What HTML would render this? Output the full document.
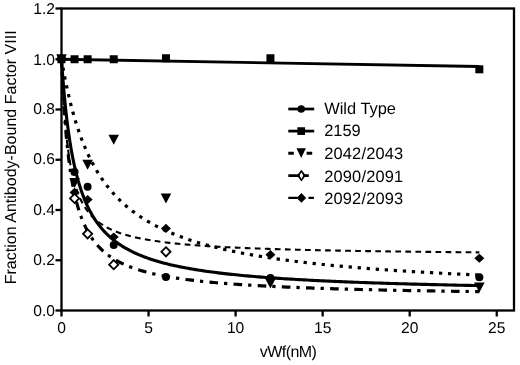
<!DOCTYPE html>
<html><head><meta charset="utf-8"><title>chart</title><style>html,body{margin:0;padding:0;background:#fff}body{width:520px;height:365px;overflow:hidden}</style></head><body>
<svg width="520" height="365" viewBox="0 0 520 365" style="display:block;will-change:transform;text-rendering:geometricPrecision;font-family:'Liberation Sans',sans-serif" fill="#000">
<rect width="520" height="365" fill="#fff"/>
<g stroke="#000" stroke-width="2.3" fill="none">
<rect x="61.5" y="8.50" width="452.5" height="302.00"/>
<path d="M55.5 310.50 H61.5"/>
<path d="M55.5 260.25 H61.5"/>
<path d="M55.5 210.00 H61.5"/>
<path d="M55.5 159.75 H61.5"/>
<path d="M55.5 109.50 H61.5"/>
<path d="M55.5 59.25 H61.5"/>
<path d="M55.5 8.50 H61.5"/>
<path d="M61.50 310.5 V316.5"/>
<path d="M148.55 310.5 V316.5"/>
<path d="M235.60 310.5 V316.5"/>
<path d="M322.65 310.5 V316.5"/>
<path d="M409.70 310.5 V316.5"/>
<path d="M496.75 310.5 V316.5"/>
</g>
<text transform="translate(55.00 315.60) scale(1.000 1)" font-size="15.60px" text-anchor="end" >0.0</text>
<text transform="translate(55.00 265.05) scale(1.000 1)" font-size="15.60px" text-anchor="end" >0.2</text>
<text transform="translate(55.00 214.70) scale(1.000 1)" font-size="15.60px" text-anchor="end" >0.4</text>
<text transform="translate(55.00 163.85) scale(1.000 1)" font-size="15.60px" text-anchor="end" >0.6</text>
<text transform="translate(55.00 113.60) scale(1.000 1)" font-size="15.60px" text-anchor="end" >0.8</text>
<text transform="translate(55.00 64.65) scale(1.000 1)" font-size="15.60px" text-anchor="end" >1.0</text>
<text transform="translate(55.00 14.20) scale(1.000 1)" font-size="15.60px" text-anchor="end" >1.2</text>
<text transform="translate(61.50 332.80) scale(1.000 1)" font-size="15.60px" text-anchor="middle" >0</text>
<text transform="translate(148.55 332.80) scale(1.000 1)" font-size="15.60px" text-anchor="middle" >5</text>
<text transform="translate(235.60 332.80) scale(1.000 1)" font-size="15.60px" text-anchor="middle" >10</text>
<text transform="translate(322.65 332.80) scale(1.000 1)" font-size="15.60px" text-anchor="middle" >15</text>
<text transform="translate(409.70 332.80) scale(1.000 1)" font-size="15.60px" text-anchor="middle" >20</text>
<text transform="translate(496.75 332.80) scale(1.000 1)" font-size="15.60px" text-anchor="middle" >25</text>
<text transform="translate(288.30 357.10) scale(1.000 1)" font-size="16.00px" text-anchor="middle" textLength="57.2" lengthAdjust="spacing">vWf(nM)</text>
<text transform="translate(15.9 157.3) rotate(-90)" font-size="16.05px" text-anchor="middle">Fraction Antibody-Bound Factor VIII</text>
<g fill="none" stroke="#000">
<path d="M61.50 59.25 L479.34 66.50" stroke-width="2.8"/>
<path d="M61.50 59.25 L61.51 59.44 L61.53 59.99 L61.57 60.90 L61.62 62.17 L61.68 63.78 L61.76 65.70 L61.86 67.93 L61.96 70.43 L62.09 73.19 L62.23 76.18 L62.38 79.37 L62.54 82.74 L62.73 86.26 L62.92 89.90 L63.13 93.65 L63.36 97.47 L63.60 101.34 L63.85 105.24 L64.12 109.16 L64.40 113.08 L64.70 116.98 L65.01 120.84 L65.34 124.66 L65.68 128.43 L66.03 132.14 L66.40 135.77 L66.79 139.33 L67.19 142.80 L67.60 146.19 L68.03 149.49 L68.47 152.70 L68.93 155.82 L69.40 158.85 L69.89 161.78 L70.39 164.62 L70.90 167.37 L71.43 170.03 L71.98 172.60 L72.53 175.09 L73.11 177.49 L73.69 179.80 L74.30 182.04 L74.91 184.20 L75.54 186.28 L76.19 188.29 L76.85 190.22 L77.52 192.09 L78.21 193.89 L78.92 195.63 L79.64 197.31 L80.37 198.92 L81.12 200.48 L81.88 201.99 L82.65 203.44 L83.44 204.84 L84.25 206.19 L85.07 207.49 L85.90 208.75 L86.75 209.97 L87.62 211.14 L88.49 212.27 L89.39 213.37 L90.29 214.43 L91.21 215.45 L92.15 216.44 L93.10 217.39 L94.06 218.31 L95.04 219.21 L96.04 220.07 L97.05 220.91 L98.07 221.72 L99.11 222.50 L100.16 223.26 L101.22 223.99 L102.30 224.70 L103.40 225.39 L104.51 226.06 L105.63 226.71 L106.77 227.34 L107.93 227.95 L109.09 228.54 L110.28 229.11 L111.47 229.67 L112.69 230.21 L113.91 230.73 L115.15 231.24 L116.41 231.74 L117.68 232.22 L118.96 232.69 L120.26 233.14 L121.57 233.58 L122.90 234.01 L124.24 234.43 L125.60 234.83 L126.97 235.23 L128.35 235.61 L129.75 235.99 L131.17 236.35 L132.60 236.71 L134.04 237.05 L135.50 237.39 L136.97 237.72 L138.46 238.04 L139.96 238.35 L141.48 238.65 L143.01 238.95 L144.55 239.24 L146.11 239.52 L147.69 239.80 L149.28 240.07 L150.88 240.33 L152.50 240.58 L154.13 240.83 L155.78 241.08 L157.44 241.31 L159.11 241.55 L160.80 241.77 L162.51 242.00 L164.23 242.21 L165.96 242.43 L167.71 242.63 L169.47 242.84 L171.25 243.03 L173.04 243.23 L174.85 243.42 L176.67 243.60 L178.50 243.78 L180.35 243.96 L182.22 244.13 L184.10 244.30 L185.99 244.47 L187.90 244.63 L189.82 244.79 L191.76 244.95 L193.71 245.10 L195.67 245.25 L197.65 245.40 L199.65 245.54 L201.66 245.69 L203.68 245.82 L205.72 245.96 L207.77 246.09 L209.84 246.22 L211.92 246.35 L214.02 246.48 L216.13 246.60 L218.26 246.72 L220.40 246.84 L222.55 246.95 L224.72 247.07 L226.90 247.18 L229.10 247.29 L231.31 247.40 L233.54 247.50 L235.78 247.61 L238.04 247.71 L240.31 247.81 L242.59 247.91 L244.89 248.00 L247.21 248.10 L249.54 248.19 L251.88 248.28 L254.24 248.37 L256.61 248.46 L258.99 248.55 L261.40 248.63 L263.81 248.72 L266.24 248.80 L268.69 248.88 L271.15 248.96 L273.62 249.04 L276.11 249.12 L278.61 249.19 L281.13 249.27 L283.66 249.34 L286.21 249.41 L288.77 249.48 L291.34 249.55 L293.93 249.62 L296.53 249.69 L299.15 249.76 L301.79 249.82 L304.43 249.89 L307.10 249.95 L309.77 250.01 L312.47 250.07 L315.17 250.13 L317.89 250.19 L320.63 250.25 L323.38 250.31 L326.14 250.37 L328.92 250.42 L331.71 250.48 L334.52 250.53 L337.34 250.59 L340.18 250.64 L343.03 250.69 L345.89 250.74 L348.77 250.79 L351.67 250.84 L354.58 250.89 L357.50 250.94 L360.44 250.99 L363.39 251.04 L366.36 251.08 L369.34 251.13 L372.33 251.17 L375.34 251.22 L378.37 251.26 L381.41 251.31 L384.46 251.35 L387.53 251.39 L390.61 251.43 L393.71 251.47 L396.82 251.51 L399.95 251.55 L403.09 251.59 L406.25 251.63 L409.42 251.67 L412.60 251.71 L415.80 251.74 L419.01 251.78 L422.24 251.82 L425.49 251.85 L428.74 251.89 L432.01 251.92 L435.30 251.96 L438.60 251.99 L441.92 252.03 L445.25 252.06 L448.59 252.09 L451.95 252.12 L455.32 252.16 L458.71 252.19 L462.11 252.22 L465.53 252.25 L468.96 252.28 L472.41 252.31 L475.87 252.34 L479.34 252.37" stroke-width="2.1" stroke-dasharray="5.7 4.34" stroke-dashoffset="-0.36"/>
<path d="M61.50 59.25 L61.51 59.29 L61.53 59.42 L61.57 59.64 L61.62 59.94 L61.68 60.33 L61.76 60.80 L61.86 61.36 L61.96 62.00 L62.09 62.72 L62.23 63.52 L62.38 64.40 L62.54 65.35 L62.73 66.37 L62.92 67.47 L63.13 68.64 L63.36 69.88 L63.60 71.18 L63.85 72.54 L64.12 73.96 L64.40 75.45 L64.70 76.98 L65.01 78.57 L65.34 80.21 L65.68 81.89 L66.03 83.62 L66.40 85.38 L66.79 87.19 L67.19 89.03 L67.60 90.91 L68.03 92.81 L68.47 94.75 L68.93 96.70 L69.40 98.68 L69.89 100.68 L70.39 102.70 L70.90 104.74 L71.43 106.78 L71.98 108.84 L72.53 110.91 L73.11 112.98 L73.69 115.06 L74.30 117.14 L74.91 119.22 L75.54 121.30 L76.19 123.38 L76.85 125.45 L77.52 127.52 L78.21 129.58 L78.92 131.63 L79.64 133.68 L80.37 135.71 L81.12 137.73 L81.88 139.74 L82.65 141.74 L83.44 143.72 L84.25 145.68 L85.07 147.63 L85.90 149.56 L86.75 151.48 L87.62 153.37 L88.49 155.25 L89.39 157.11 L90.29 158.95 L91.21 160.77 L92.15 162.57 L93.10 164.34 L94.06 166.10 L95.04 167.84 L96.04 169.55 L97.05 171.24 L98.07 172.92 L99.11 174.57 L100.16 176.20 L101.22 177.80 L102.30 179.39 L103.40 180.95 L104.51 182.49 L105.63 184.01 L106.77 185.51 L107.93 186.99 L109.09 188.44 L110.28 189.88 L111.47 191.29 L112.69 192.68 L113.91 194.05 L115.15 195.41 L116.41 196.74 L117.68 198.05 L118.96 199.34 L120.26 200.61 L121.57 201.86 L122.90 203.09 L124.24 204.30 L125.60 205.50 L126.97 206.67 L128.35 207.83 L129.75 208.97 L131.17 210.09 L132.60 211.20 L134.04 212.28 L135.50 213.35 L136.97 214.40 L138.46 215.44 L139.96 216.46 L141.48 217.46 L143.01 218.45 L144.55 219.42 L146.11 220.37 L147.69 221.31 L149.28 222.24 L150.88 223.15 L152.50 224.05 L154.13 224.93 L155.78 225.80 L157.44 226.65 L159.11 227.49 L160.80 228.32 L162.51 229.14 L164.23 229.94 L165.96 230.73 L167.71 231.50 L169.47 232.27 L171.25 233.02 L173.04 233.76 L174.85 234.49 L176.67 235.21 L178.50 235.91 L180.35 236.61 L182.22 237.30 L184.10 237.97 L185.99 238.63 L187.90 239.29 L189.82 239.93 L191.76 240.56 L193.71 241.19 L195.67 241.80 L197.65 242.41 L199.65 243.00 L201.66 243.59 L203.68 244.17 L205.72 244.74 L207.77 245.30 L209.84 245.85 L211.92 246.39 L214.02 246.93 L216.13 247.45 L218.26 247.97 L220.40 248.49 L222.55 248.99 L224.72 249.49 L226.90 249.98 L229.10 250.46 L231.31 250.94 L233.54 251.40 L235.78 251.87 L238.04 252.32 L240.31 252.77 L242.59 253.21 L244.89 253.65 L247.21 254.08 L249.54 254.50 L251.88 254.92 L254.24 255.33 L256.61 255.73 L258.99 256.13 L261.40 256.53 L263.81 256.92 L266.24 257.30 L268.69 257.68 L271.15 258.05 L273.62 258.42 L276.11 258.78 L278.61 259.14 L281.13 259.49 L283.66 259.84 L286.21 260.18 L288.77 260.52 L291.34 260.85 L293.93 261.18 L296.53 261.51 L299.15 261.83 L301.79 262.15 L304.43 262.46 L307.10 262.77 L309.77 263.07 L312.47 263.37 L315.17 263.67 L317.89 263.96 L320.63 264.25 L323.38 264.53 L326.14 264.81 L328.92 265.09 L331.71 265.36 L334.52 265.63 L337.34 265.90 L340.18 266.16 L343.03 266.42 L345.89 266.68 L348.77 266.93 L351.67 267.18 L354.58 267.43 L357.50 267.67 L360.44 267.91 L363.39 268.15 L366.36 268.39 L369.34 268.62 L372.33 268.85 L375.34 269.08 L378.37 269.30 L381.41 269.52 L384.46 269.74 L387.53 269.95 L390.61 270.17 L393.71 270.38 L396.82 270.59 L399.95 270.79 L403.09 270.99 L406.25 271.19 L409.42 271.39 L412.60 271.59 L415.80 271.78 L419.01 271.97 L422.24 272.16 L425.49 272.35 L428.74 272.54 L432.01 272.72 L435.30 272.90 L438.60 273.08 L441.92 273.25 L445.25 273.43 L448.59 273.60 L451.95 273.77 L455.32 273.94 L458.71 274.11 L462.11 274.27 L465.53 274.43 L468.96 274.60 L472.41 274.75 L475.87 274.91 L479.34 275.07" stroke-width="3.2" stroke-dasharray="3.3 5.755" stroke-dashoffset="0.7"/>
<path d="M61.50 59.25 L61.51 59.42 L61.53 59.94 L61.57 60.79 L61.62 61.97 L61.68 63.48 L61.76 65.29 L61.86 67.40 L61.96 69.78 L62.09 72.42 L62.23 75.30 L62.38 78.40 L62.54 81.70 L62.73 85.17 L62.92 88.80 L63.13 92.56 L63.36 96.43 L63.60 100.40 L63.85 104.43 L64.12 108.52 L64.40 112.65 L64.70 116.80 L65.01 120.96 L65.34 125.11 L65.68 129.24 L66.03 133.34 L66.40 137.40 L66.79 141.41 L67.19 145.37 L67.60 149.26 L68.03 153.08 L68.47 156.83 L68.93 160.51 L69.40 164.10 L69.89 167.62 L70.39 171.05 L70.90 174.39 L71.43 177.65 L71.98 180.82 L72.53 183.91 L73.11 186.91 L73.69 189.83 L74.30 192.66 L74.91 195.41 L75.54 198.08 L76.19 200.67 L76.85 203.18 L77.52 205.61 L78.21 207.97 L78.92 210.26 L79.64 212.48 L80.37 214.63 L81.12 216.71 L81.88 218.73 L82.65 220.68 L83.44 222.57 L84.25 224.41 L85.07 226.18 L85.90 227.90 L86.75 229.57 L87.62 231.19 L88.49 232.75 L89.39 234.27 L90.29 235.74 L91.21 237.16 L92.15 238.54 L93.10 239.88 L94.06 241.18 L95.04 242.44 L96.04 243.66 L97.05 244.85 L98.07 246.00 L99.11 247.11 L100.16 248.19 L101.22 249.25 L102.30 250.27 L103.40 251.26 L104.51 252.22 L105.63 253.15 L106.77 254.06 L107.93 254.94 L109.09 255.80 L110.28 256.63 L111.47 257.44 L112.69 258.23 L113.91 258.99 L115.15 259.74 L116.41 260.46 L117.68 261.16 L118.96 261.85 L120.26 262.52 L121.57 263.17 L122.90 263.80 L124.24 264.42 L125.60 265.02 L126.97 265.60 L128.35 266.17 L129.75 266.73 L131.17 267.27 L132.60 267.79 L134.04 268.31 L135.50 268.81 L136.97 269.30 L138.46 269.78 L139.96 270.24 L141.48 270.70 L143.01 271.14 L144.55 271.57 L146.11 271.99 L147.69 272.41 L149.28 272.81 L150.88 273.20 L152.50 273.59 L154.13 273.96 L155.78 274.33 L157.44 274.69 L159.11 275.04 L160.80 275.38 L162.51 275.72 L164.23 276.05 L165.96 276.37 L167.71 276.68 L169.47 276.99 L171.25 277.29 L173.04 277.58 L174.85 277.87 L176.67 278.15 L178.50 278.42 L180.35 278.69 L182.22 278.96 L184.10 279.22 L185.99 279.47 L187.90 279.72 L189.82 279.96 L191.76 280.20 L193.71 280.43 L195.67 280.66 L197.65 280.88 L199.65 281.10 L201.66 281.32 L203.68 281.53 L205.72 281.74 L207.77 281.94 L209.84 282.14 L211.92 282.34 L214.02 282.53 L216.13 282.72 L218.26 282.90 L220.40 283.08 L222.55 283.26 L224.72 283.43 L226.90 283.61 L229.10 283.77 L231.31 283.94 L233.54 284.10 L235.78 284.26 L238.04 284.42 L240.31 284.57 L242.59 284.72 L244.89 284.87 L247.21 285.02 L249.54 285.16 L251.88 285.30 L254.24 285.44 L256.61 285.58 L258.99 285.71 L261.40 285.84 L263.81 285.97 L266.24 286.10 L268.69 286.22 L271.15 286.35 L273.62 286.47 L276.11 286.59 L278.61 286.70 L281.13 286.82 L283.66 286.93 L286.21 287.04 L288.77 287.15 L291.34 287.26 L293.93 287.37 L296.53 287.47 L299.15 287.57 L301.79 287.68 L304.43 287.78 L307.10 287.87 L309.77 287.97 L312.47 288.07 L315.17 288.16 L317.89 288.25 L320.63 288.34 L323.38 288.43 L326.14 288.52 L328.92 288.61 L331.71 288.69 L334.52 288.78 L337.34 288.86 L340.18 288.94 L343.03 289.02 L345.89 289.10 L348.77 289.18 L351.67 289.26 L354.58 289.34 L357.50 289.41 L360.44 289.49 L363.39 289.56 L366.36 289.63 L369.34 289.70 L372.33 289.77 L375.34 289.84 L378.37 289.91 L381.41 289.98 L384.46 290.04 L387.53 290.11 L390.61 290.17 L393.71 290.24 L396.82 290.30 L399.95 290.36 L403.09 290.42 L406.25 290.48 L409.42 290.54 L412.60 290.60 L415.80 290.66 L419.01 290.72 L422.24 290.77 L425.49 290.83 L428.74 290.88 L432.01 290.94 L435.30 290.99 L438.60 291.04 L441.92 291.10 L445.25 291.15 L448.59 291.20 L451.95 291.25 L455.32 291.30 L458.71 291.35 L462.11 291.40 L465.53 291.45 L468.96 291.49 L472.41 291.54 L475.87 291.59 L479.34 291.63" stroke-width="3.2" stroke-dasharray="8.6 6.0 3.3 6.27" stroke-dashoffset="1.33"/>
<path d="M61.50 59.25 L61.51 59.36 L61.53 59.69 L61.57 60.23 L61.62 60.99 L61.68 61.96 L61.76 63.13 L61.86 64.49 L61.96 66.05 L62.09 67.79 L62.23 69.71 L62.38 71.79 L62.54 74.02 L62.73 76.40 L62.92 78.91 L63.13 81.54 L63.36 84.29 L63.60 87.13 L63.85 90.06 L64.12 93.07 L64.40 96.15 L64.70 99.29 L65.01 102.48 L65.34 105.70 L65.68 108.95 L66.03 112.23 L66.40 115.52 L66.79 118.81 L67.19 122.10 L67.60 125.38 L68.03 128.65 L68.47 131.90 L68.93 135.12 L69.40 138.32 L69.89 141.48 L70.39 144.60 L70.90 147.68 L71.43 150.72 L71.98 153.72 L72.53 156.67 L73.11 159.57 L73.69 162.41 L74.30 165.21 L74.91 167.95 L75.54 170.64 L76.19 173.27 L76.85 175.85 L77.52 178.38 L78.21 180.85 L78.92 183.26 L79.64 185.62 L80.37 187.93 L81.12 190.18 L81.88 192.38 L82.65 194.53 L83.44 196.63 L84.25 198.68 L85.07 200.68 L85.90 202.63 L86.75 204.53 L87.62 206.38 L88.49 208.19 L89.39 209.95 L90.29 211.67 L91.21 213.35 L92.15 214.98 L93.10 216.58 L94.06 218.13 L95.04 219.64 L96.04 221.12 L97.05 222.56 L98.07 223.96 L99.11 225.33 L100.16 226.66 L101.22 227.96 L102.30 229.23 L103.40 230.46 L104.51 231.67 L105.63 232.84 L106.77 233.99 L107.93 235.11 L109.09 236.20 L110.28 237.26 L111.47 238.30 L112.69 239.31 L113.91 240.30 L115.15 241.26 L116.41 242.20 L117.68 243.12 L118.96 244.01 L120.26 244.89 L121.57 245.74 L122.90 246.57 L124.24 247.39 L125.60 248.18 L126.97 248.96 L128.35 249.72 L129.75 250.46 L131.17 251.18 L132.60 251.89 L134.04 252.58 L135.50 253.25 L136.97 253.91 L138.46 254.56 L139.96 255.19 L141.48 255.80 L143.01 256.41 L144.55 257.00 L146.11 257.57 L147.69 258.14 L149.28 258.69 L150.88 259.23 L152.50 259.76 L154.13 260.28 L155.78 260.78 L157.44 261.28 L159.11 261.76 L160.80 262.24 L162.51 262.70 L164.23 263.16 L165.96 263.60 L167.71 264.04 L169.47 264.47 L171.25 264.89 L173.04 265.30 L174.85 265.70 L176.67 266.10 L178.50 266.48 L180.35 266.86 L182.22 267.24 L184.10 267.60 L185.99 267.96 L187.90 268.31 L189.82 268.65 L191.76 268.99 L193.71 269.32 L195.67 269.64 L197.65 269.96 L199.65 270.28 L201.66 270.58 L203.68 270.88 L205.72 271.18 L207.77 271.47 L209.84 271.75 L211.92 272.03 L214.02 272.31 L216.13 272.58 L218.26 272.84 L220.40 273.10 L222.55 273.36 L224.72 273.61 L226.90 273.86 L229.10 274.10 L231.31 274.34 L233.54 274.57 L235.78 274.80 L238.04 275.03 L240.31 275.25 L242.59 275.47 L244.89 275.68 L247.21 275.89 L249.54 276.10 L251.88 276.30 L254.24 276.50 L256.61 276.70 L258.99 276.90 L261.40 277.09 L263.81 277.28 L266.24 277.46 L268.69 277.64 L271.15 277.82 L273.62 278.00 L276.11 278.17 L278.61 278.34 L281.13 278.51 L283.66 278.68 L286.21 278.84 L288.77 279.00 L291.34 279.16 L293.93 279.31 L296.53 279.46 L299.15 279.62 L301.79 279.76 L304.43 279.91 L307.10 280.05 L309.77 280.20 L312.47 280.34 L315.17 280.47 L317.89 280.61 L320.63 280.74 L323.38 280.88 L326.14 281.01 L328.92 281.13 L331.71 281.26 L334.52 281.38 L337.34 281.51 L340.18 281.63 L343.03 281.75 L345.89 281.86 L348.77 281.98 L351.67 282.09 L354.58 282.21 L357.50 282.32 L360.44 282.43 L363.39 282.54 L366.36 282.64 L369.34 282.75 L372.33 282.85 L375.34 282.95 L378.37 283.05 L381.41 283.15 L384.46 283.25 L387.53 283.35 L390.61 283.44 L393.71 283.54 L396.82 283.63 L399.95 283.72 L403.09 283.81 L406.25 283.90 L409.42 283.99 L412.60 284.08 L415.80 284.17 L419.01 284.25 L422.24 284.33 L425.49 284.42 L428.74 284.50 L432.01 284.58 L435.30 284.66 L438.60 284.74 L441.92 284.82 L445.25 284.89 L448.59 284.97 L451.95 285.05 L455.32 285.12 L458.71 285.19 L462.11 285.26 L465.53 285.34 L468.96 285.41 L472.41 285.48 L475.87 285.55 L479.34 285.61" stroke-width="3.1" />
</g>
<rect x="57.50" y="55.25" width="8.00" height="8.00" fill="#000"/>
<rect x="70.56" y="55.25" width="8.00" height="8.00" fill="#000"/>
<rect x="83.62" y="55.25" width="8.00" height="8.00" fill="#000"/>
<rect x="109.73" y="55.25" width="8.00" height="8.00" fill="#000"/>
<rect x="161.96" y="54.25" width="8.00" height="8.00" fill="#000"/>
<rect x="266.42" y="54.25" width="8.00" height="8.00" fill="#000"/>
<rect x="475.34" y="65.30" width="8.00" height="8.00" fill="#000"/>
<path d="M56.20 54.25 L66.80 54.25 L61.50 64.25 Z" fill="#000"/>
<path d="M69.26 178.12 L79.86 178.12 L74.56 188.12 Z" fill="#000"/>
<path d="M82.32 159.78 L92.92 159.78 L87.62 169.78 Z" fill="#000"/>
<path d="M108.43 134.65 L119.03 134.65 L113.73 144.65 Z" fill="#000"/>
<path d="M160.66 193.44 L171.26 193.44 L165.96 203.44 Z" fill="#000"/>
<path d="M265.12 278.49 L275.72 278.49 L270.42 288.49 Z" fill="#000"/>
<path d="M474.04 282.38 L484.64 282.38 L479.34 292.38 Z" fill="#000"/>
<path d="M61.50 54.65 L66.50 59.25 L61.50 63.85 L56.50 59.25 Z" fill="#000"/>
<path d="M74.56 187.81 L79.56 192.41 L74.56 197.01 L69.56 192.41 Z" fill="#000"/>
<path d="M87.62 194.95 L92.62 199.55 L87.62 204.15 L82.62 199.55 Z" fill="#000"/>
<path d="M113.73 232.41 L118.73 237.01 L113.73 241.61 L108.73 237.01 Z" fill="#000"/>
<path d="M165.96 223.84 L170.96 228.44 L165.96 233.04 L160.96 228.44 Z" fill="#000"/>
<path d="M270.42 250.12 L275.42 254.72 L270.42 259.32 L265.42 254.72 Z" fill="#000"/>
<path d="M479.34 253.64 L484.34 258.24 L479.34 262.84 L474.34 258.24 Z" fill="#000"/>
<path d="M61.50 54.65 L66.10 59.25 L61.50 63.85 L56.90 59.25 Z" fill="#fff" stroke="#000" stroke-width="1.8"/>
<path d="M74.56 193.84 L79.16 198.44 L74.56 203.04 L69.96 198.44 Z" fill="#fff" stroke="#000" stroke-width="1.8"/>
<path d="M87.62 229.27 L92.22 233.87 L87.62 238.47 L83.02 233.87 Z" fill="#fff" stroke="#000" stroke-width="1.8"/>
<path d="M113.73 260.10 L118.33 264.70 L113.73 269.30 L109.13 264.70 Z" fill="#fff" stroke="#000" stroke-width="1.8"/>
<path d="M165.96 247.16 L170.56 251.76 L165.96 256.36 L161.36 251.76 Z" fill="#fff" stroke="#000" stroke-width="1.8"/>
<circle cx="61.50" cy="59.25" r="4.00" fill="#000"/>
<circle cx="74.56" cy="172.06" r="4.00" fill="#000"/>
<circle cx="87.62" cy="186.63" r="4.00" fill="#000"/>
<circle cx="113.73" cy="245.00" r="4.00" fill="#000"/>
<circle cx="165.96" cy="277.01" r="4.00" fill="#000"/>
<circle cx="270.42" cy="278.09" r="4.00" fill="#000"/>
<circle cx="479.34" cy="277.21" r="4.00" fill="#000"/>
<g fill="none" stroke="#000">
<path d="M288.3 109.00 H314.2" stroke-width="2.75"/>
<path d="M288.3 131.10 H314.2" stroke-width="2.75"/>
<path d="M288.3 153.30 H293.8 M306.6 153.30 H312.2" stroke-width="2.9"/>
<path d="M288.3 197.90 H314.2" stroke-width="2.1" stroke-dasharray="9 11.2 5.4 10"/>
</g>
<circle cx="301.20" cy="109.00" r="3.80" fill="#000"/>
<rect x="297.35" y="127.25" width="7.70" height="7.70" fill="#000"/>
<path d="M296.50 148.30 L305.90 148.30 L301.20 157.90 Z" fill="#000"/>
<path d="M301.40 169.70 L305.80 175.60 L301.40 181.50 L297.00 175.60 Z" fill="#000"/>
<path d="M301.40 172.30 L303.30 175.60 L301.40 178.90 L299.50 175.60 Z" fill="#fff"/>
<path d="M288.3 175.60 H299.6 M303.4 175.60 H308.8" stroke="#000" stroke-width="2.9" fill="none"/>
<path d="M301.40 193.00 L306.20 197.90 L301.40 202.80 L296.60 197.90 Z" fill="#000"/>
<text transform="translate(324.20 113.90) scale(1.000 1)" font-size="16.40px" text-anchor="start" textLength="71.8" lengthAdjust="spacingAndGlyphs">Wild Type</text>
<text transform="translate(324.20 136.40) scale(1.000 1)" font-size="16.40px" text-anchor="start" >2159</text>
<text transform="translate(324.20 159.10) scale(1.000 1)" font-size="16.40px" text-anchor="start" textLength="79.0" lengthAdjust="spacing">2042/2043</text>
<text transform="translate(324.20 181.70) scale(1.000 1)" font-size="16.40px" text-anchor="start" textLength="79.0" lengthAdjust="spacing">2090/2091</text>
<text transform="translate(324.20 204.30) scale(1.000 1)" font-size="16.40px" text-anchor="start" textLength="79.0" lengthAdjust="spacing">2092/2093</text>
</svg>
</body></html>
